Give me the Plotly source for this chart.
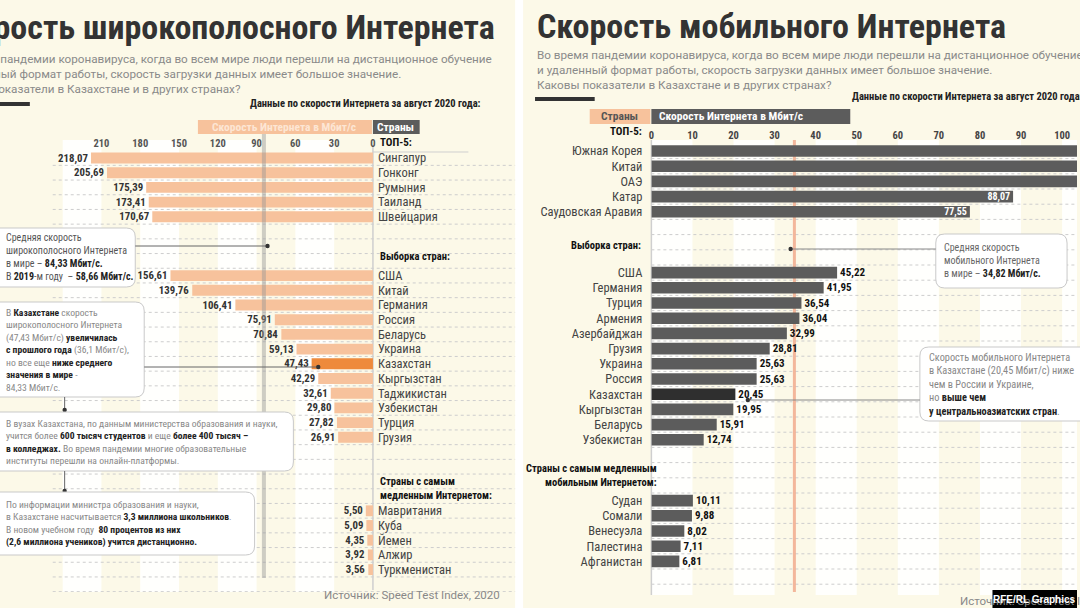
import plotly.graph_objects as go

# ---------------- DATA ----------------
bb_top_names = ["Сингапур", "Гонконг", "Румыния", "Таиланд", "Швейцария"]
bb_top_vals = [218.07, 205.69, 175.39, 173.41, 170.67]
bb_sel_names = ["США", "Китай", "Германия", "Россия", "Беларусь", "Украина", "Казахстан",
                "Кыргызстан", "Таджикистан", "Узбекистан", "Турция", "Грузия"]
bb_sel_vals = [156.61, 139.76, 106.41, 75.91, 70.84, 59.13, 47.43, 42.29, 32.61, 29.80, 27.82, 26.91]
bb_slow_names = ["Мавритания", "Куба", "Йемен", "Алжир", "Туркменистан"]
bb_slow_vals = [5.50, 5.09, 4.35, 3.92, 3.56]
bb_world_avg = 84.33
bb_ticks = [0, 30, 60, 90, 120, 150, 180, 210]

mob_top_names = ["Южная Корея", "Китай", "ОАЭ", "Катар", "Саудовская Аравия"]
mob_top_vals = [121.00, 112.00, 111.50, 88.07, 77.55]
mob_sel_names = ["США", "Германия", "Турция", "Армения", "Азербайджан", "Грузия", "Украина",
                 "Россия", "Казахстан", "Кыргызстан", "Беларусь", "Узбекистан"]
mob_sel_vals = [45.22, 41.95, 36.54, 36.04, 32.99, 28.81, 25.63, 25.63, 20.45, 19.95, 15.91, 12.74]
mob_slow_names = ["Судан", "Сомали", "Венесуэла", "Палестина", "Афганистан"]
mob_slow_vals = [10.11, 9.88, 8.02, 7.11, 6.81]
mob_world_avg = 34.82
mob_ticks = [0, 10, 20, 30, 40, 50, 60, 70, 80, 90, 100]

HIGHLIGHT = "Казахстан"

# ---------------- STYLE / LAYOUT HELPERS ----------------
W, H = 1080, 608
CREAM = "#fcf9e8"
STRIPE = "#fffffd"
FONT = "Roboto, 'Noto Sans', sans-serif"
COND = "'Roboto Condensed', 'Liberation Sans Narrow', 'Arial Narrow', Roboto, sans-serif"


def X(p):
    return p / W


def Y(p):
    return 1 - p / H


def fmt(v):
    return f"{v:.2f}".replace(".", ",")


def rows(groups):
    pos = []
    for first, names in groups:
        pos += [first + i for i in range(len(names))]
    return pos


bb_names = bb_top_names + bb_sel_names + bb_slow_names
bb_vals = bb_top_vals + bb_sel_vals + bb_slow_vals
bb_pos = rows([(0, bb_top_names), (8, bb_sel_names), (24, bb_slow_names)])

mob_names = mob_top_names + mob_sel_names + mob_slow_names
mob_vals = mob_top_vals + mob_sel_vals + mob_slow_vals
mob_pos = rows([(0, mob_top_names), (8, mob_sel_names), (23, mob_slow_names)])

fig = go.Figure()

fig.add_trace(go.Bar(
    x=bb_vals, y=bb_pos, orientation="h", width=0.74,
    marker=dict(color=["#ee8a3c" if n == HIGHLIGHT else "#f7c29c" for n in bb_names], line_width=0),
    text=[fmt(v) for v in bb_vals], textposition="outside", cliponaxis=False, constraintext="none",
    textfont=dict(size=10.8, color="#333", family=COND, weight="bold"),
    xaxis="x", yaxis="y", hoverinfo="skip", showlegend=False,
))

fig.add_trace(go.Bar(
    x=mob_vals, y=mob_pos, orientation="h", width=0.76,
    marker=dict(color=["#2f2f2f" if n == HIGHLIGHT else "#5c5c5c" for n in mob_names], line_width=0),
    text=[fmt(v) for v in mob_vals],
    textposition=["inside"] * len(mob_top_vals) + ["outside"] * (len(mob_sel_vals) + len(mob_slow_vals)),
    insidetextanchor="end", constraintext="none", cliponaxis=True,
    insidetextfont=dict(size=10, color="#ffffff", family=COND, weight="bold"),
    outsidetextfont=dict(size=11, color="#111", family=COND, weight="bold"),
    xaxis="x2", yaxis="y2", hoverinfo="skip", showlegend=False,
))

# left panel: 0 at 372px, 1.3 px per unit, reversed
L_RIGHT = 372
L_SCALE = 1.3
R_LEFT = 652
R_SCALE = 4.13

shapes = []
ann = []


def rect(x0, y0, x1, y1, fill, line=None, layer="below"):
    shapes.append(dict(type="rect", xref="paper", yref="paper", x0=X(x0), x1=X(x1), y0=Y(y1), y1=Y(y0),
                       fillcolor=fill, line=dict(width=0 if line is None else 1, color=line or fill),
                       layer=layer))


def seg(x0, y0, x1, y1, color="#555", width=1, dash="solid", layer="above"):
    shapes.append(dict(type="line", xref="paper", yref="paper", x0=X(x0), x1=X(x1), y0=Y(y0), y1=Y(y1),
                       line=dict(color=color, width=width, dash=dash), layer=layer))


def dot(x, y, r=2.2, color="#333"):
    shapes.append(dict(type="circle", xref="paper", yref="paper", x0=X(x - r), x1=X(x + r),
                       y0=Y(y + r), y1=Y(y - r), fillcolor=color, line=dict(width=0), layer="above"))


def rbox(x0, y0, x1, y1, r=9):
    rx, ry = r / W, r / H
    a, b, c, d = X(x0), X(x1), Y(y0), Y(y1)  # c top, d bottom
    path = (f"M{a+rx},{c} L{b-rx},{c} Q{b},{c} {b},{c-ry} L{b},{d+ry} Q{b},{d} {b-rx},{d} "
            f"L{a+rx},{d} Q{a},{d} {a},{d+ry} L{a},{c-ry} Q{a},{c} {a+rx},{c} Z")
    shapes.append(dict(type="path", xref="paper", yref="paper", path=path, fillcolor="#ffffff",
                       line=dict(color="#c9c9c9", width=1), layer="above"))


def text(t, x, y, xanchor="left", yanchor="middle", size=11, color="#333", bold=False, family=FONT,
         align="left"):
    ann.append(dict(text=t, x=X(x), y=Y(y), xref="paper", yref="paper", xanchor=xanchor, yanchor=yanchor,
                    showarrow=False, align=align,
                    font=dict(size=size, color=color, family=family, weight="bold" if bold else "normal")))


def B(s):
    return f"<span style='color:#222'><b>{s}</b></span>"


# panel divider
rect(515, 0, 523, H, "#ffffff")

# vertical stripes
for lo in [30, 90, 150, 210]:
    shapes.append(dict(type="rect", xref="x", yref="paper", x0=lo, x1=lo + 30, y0=Y(592), y1=Y(140),
                       fillcolor=STRIPE, line=dict(width=0), layer="below"))
for lo in range(0, 110, 20):
    shapes.append(dict(type="rect", xref="x2", yref="paper", x0=lo, x1=lo + 10, y0=Y(595), y1=Y(140),
                       fillcolor=STRIPE, line=dict(width=0), layer="below"))

# dotted row separators
for k in range(0, 30):
    shapes.append(dict(type="line", xref="paper", yref="y", x0=X(50), x1=X(515), y0=k + 0.5, y1=k + 0.5,
                       line=dict(color="#cdcdcd", width=1, dash="dot"), layer="below"))
for k in range(0, 29):
    shapes.append(dict(type="line", xref="paper", yref="y2", x0=X(R_LEFT), x1=X(1080), y0=k + 0.5,
                       y1=k + 0.5, line=dict(color="#cdcdcd", width=1, dash="dot"), layer="below"))

# axis lines
seg(L_RIGHT, 145, L_RIGHT, 590, color="#cfcfcf", width=1.5, layer="below")
seg(L_RIGHT, 152, 468, 152, color="#cfcfcf", width=1, layer="below")
seg(R_LEFT, 140, R_LEFT, 595, color="#cfcfcf", width=1.5, layer="below")

# world average lines
shapes.append(dict(type="line", xref="x", yref="paper", x0=bb_world_avg, x1=bb_world_avg, y0=Y(578),
                   y1=Y(128), line=dict(color="rgba(150,150,150,0.45)", width=4), layer="above"))
shapes.append(dict(type="line", xref="x2", yref="paper", x0=mob_world_avg, x1=mob_world_avg, y0=Y(592),
                   y1=Y(140), line=dict(color="rgba(240,160,130,0.75)", width=3), layer="below"))

# ---------- titles ----------
text("Скорость широкополосного Интернета", 497, 27, xanchor="right", size=34, color="#333", bold=True,
     family=COND)
text("Скорость мобильного Интернета", 535, 26, xanchor="left", size=34, color="#333", bold=True,
     family=COND)
sub = ("Во время пандемии коронавируса, когда во всем мире люди перешли на дистанционное обучение<br>"
       "и удаленный формат работы, скорость загрузки данных имеет большое значение.<br>"
       "Каковы показатели в Казахстане и в других странах?")
text(sub, 494, 50, xanchor="right", yanchor="top", size=11.7, color="#8a8a8a")
text(sub, 535, 46, xanchor="left", yanchor="top", size=11.7, color="#8a8a8a")
rect(-5, 102, 27, 106, "#333333", layer="above")
rect(535, 97, 595, 101, "#333333", layer="above")
text("Данные по скорости Интернета за август 2020 года:", 483, 104, xanchor="right", size=10.5,
     color="#222", bold=True, family=COND)
text("Данные по скорости Интернета за август 2020 года:", 852, 97, xanchor="left", size=10.5,
     color="#222", bold=True, family=COND)

# ---------- header boxes ----------
rect(196, 120, 371, 134, "#f7c29c", layer="above")
text("Скорость Интернета в Мбит/с", 283, 127, xanchor="center", size=11.5, color="#fde6d4", bold=True,
     family=COND)
rect(372, 120, 419, 134, "#5c5c5c", layer="above")
text("Страны", 395, 127, xanchor="center", size=11.5, color="#ffffff", bold=True, family=COND)

rect(590, 109, 651, 124, "#f7c29c", layer="above")
text("Страны", 620, 116, xanchor="center", size=11.5, color="#555", bold=True, family=COND)
rect(652, 109, 852, 124, "#5c5c5c", layer="above")
text("Скорость Интернета в Мбит/с", 658, 116, xanchor="left", size=11.5, color="#ffffff", bold=True,
     family=COND)

# ---------- section headers ----------
text("ТОП-5:", 377, 142, size=11, color="#111", bold=True, family=COND)
text("Выборка стран:", 377, 256, size=10.5, color="#111", bold=True, family=COND)
text("Страны с самым<br>медленным Интернетом:", 377, 488, size=10.5, color="#111", bold=True,
     family=COND)
text("ТОП-5:", 645, 132, xanchor="right", size=11, color="#111", bold=True, family=COND)
text("Выборка стран:", 644, 245, xanchor="right", size=10.5, color="#111", bold=True, family=COND)
text("Страны с самым медленным<br>мобильным Интернетом:", 660, 475, xanchor="right", size=10.5,
     color="#111", bold=True, family=COND, align="right")

# ---------- callouts left ----------
rbox(-12, 228, 133, 287)
text("Средняя скорость<br>широкополосного Интернета<br>в мире – " + B("84,33 Мбит/с.") + "<br>В "
     + B("2019") + "-м году  – " + B("58,66 Мбит/с."), 1, 257, size=10, color="#555", family=COND)
seg(133, 246, 266, 246, color="#666", width=1)
dot(266, 246)

rbox(-12, 302, 142, 397)
text("В " + B("Казахстане") + " скорость<br>широкополосного Интернета<br>(47,43 Мбит/с) " + B("увеличилась")
     + "<br>" + B("с прошлого года") + " (36,1 Мбит/с),<br>но все еще " + B("ниже среднего") + "<br>"
     + B("значения в мире") + " -<br>84,33 Мбит/с.", 1, 350, size=9.6, color="#888", family=COND)
seg(142, 367, 317, 367, color="#666", width=1)
dot(317, 367)
seg(62, 397, 62, 411, color="#666", width=1)
dot(62, 410)

rbox(-12, 412, 292, 471)
text("В вузах Казахстана, по данным министерства образования и науки,<br>учится более "
     + B("600 тысяч студентов") + " и еще " + B("более 400 тысяч –") + "<br>" + B("в колледжах.")
     + " Во время пандемии многие образовательные<br>институты перешли на онлайн-платформы.",
     1, 442, size=9.6, color="#888", family=COND)
seg(62, 471, 62, 491, color="#666", width=1)
dot(62, 491)

rbox(-12, 492, 253, 555)
text("По информации министра образования и науки,<br>в Казахстане насчитывается "
     + B("3,3 миллиона школьников") + ".<br>В новом учебном году  " + B("80 процентов из них") + "<br>"
     + B("(2,6 миллиона учеников) учится дистанционно."), 1, 523, size=9.6, color="#888", family=COND)

# ---------- callouts right ----------
rbox(938, 234, 1070, 288)
text("Средняя скорость<br>мобильного Интернета<br>в мире – " + B("34,82 Мбит/с."), 944, 261, size=10,
     color="#666", family=COND)
seg(792, 249, 938, 249, color="#888", width=1)
dot(792, 249)

rbox(922, 347, 1100, 421)
text("Скорость мобильного Интернета<br>в Казахстане (20,45 Мбит/с) ниже<br>чем в России и Украине,<br>но "
     + B("выше чем") + "<br>" + B("у центральноазиатских стран") + ".", 929, 384, size=10.3, color="#888",
     family=COND)
seg(749, 400, 922, 400, color="#888", width=1)
dot(749, 400)

# ---------- source / logo ----------
text("Источник: Speed Test Index, 2020", 502, 595, xanchor="right", size=11.5, color="#888")
text("Источник: Speed Test Index, 2020", 960, 601, xanchor="left", size=11.5, color="#888")
rect(995, 590, 1080, 608, "#000000", layer="above")
ann.append(dict(text="<b>RFE/RL Graphics</b>", x=X(1037), y=Y(599), xref="paper", yref="paper",
                xanchor="center", yanchor="middle", showarrow=False,
                font=dict(size=10, color="#ffffff", family="'Liberation Sans', Arial, sans-serif")))

# ---------- axes ----------
L_TOP, L_BOT = 150, 592
R_TOP, R_BOT = 142, 595
L_ROW0, L_STEP = 158, 14.7
R_ROW0, R_STEP = 151, 15.2

fig.update_layout(
    width=W, height=H, margin=dict(l=0, r=0, t=0, b=0),
    paper_bgcolor=CREAM, plot_bgcolor="rgba(0,0,0,0)",
    shapes=shapes, annotations=ann, showlegend=False,
    font=dict(family=FONT),
    xaxis=dict(domain=[0, X(L_RIGHT)], range=[L_RIGHT / L_SCALE, 0], side="top", anchor="y",
               tickvals=bb_ticks, ticktext=[str(t) for t in bb_ticks], showgrid=False, zeroline=False,
               showline=False, ticks="", tickfont=dict(size=10.5, color="#555", family=COND, weight="bold")),
    yaxis=dict(domain=[Y(L_BOT), Y(L_TOP)],
               range=[(L_BOT - L_ROW0) / L_STEP, (L_TOP - L_ROW0) / L_STEP],
               side="right", anchor="x", tickvals=bb_pos, ticktext=bb_names, showgrid=False,
               zeroline=False, showline=False, ticks="", ticklabelstandoff=4,
               tickfont=dict(size=12.5, color="#444", family=COND)),
    xaxis2=dict(domain=[X(R_LEFT), 1], range=[0, (W - R_LEFT) / R_SCALE], side="top", anchor="y2",
                tickvals=mob_ticks, showgrid=False, zeroline=False, showline=False, ticks="",
                tickfont=dict(size=10.5, color="#444", family=COND, weight="bold")),
    yaxis2=dict(domain=[Y(R_BOT), Y(R_TOP)],
                range=[(R_BOT - R_ROW0) / R_STEP, (R_TOP - R_ROW0) / R_STEP],
                side="left", anchor="x2", tickvals=mob_pos, ticktext=mob_names, showgrid=False,
                zeroline=False, showline=False, ticks="", ticklabelstandoff=8,
                tickfont=dict(size=12.5, color="#444", family=COND)),
)

fig.write_html("out.html", config={"displayModeBar": False, "staticPlot": True},
               post_script="document.body.style.margin='0';document.body.style.overflow='hidden';")
